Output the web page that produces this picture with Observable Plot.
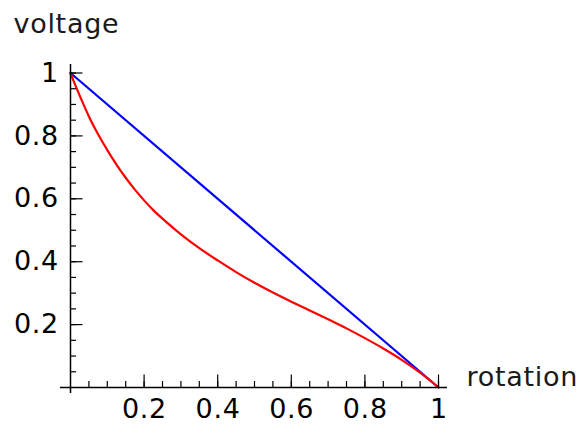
<!DOCTYPE html>
<html><head><meta charset="utf-8">
<script src="https://cdn.jsdelivr.net/npm/d3@7"></script>
<script src="https://cdn.jsdelivr.net/npm/@observablehq/plot@0.6"></script>
<style>body{margin:0;background:#fff}</style>
</head><body><div id="chart"></div>
<script>
// Loaded potentiometer curve (red)
const rotation = [0, 0.01, 0.025, 0.05, 0.075, 0.1, 0.125, 0.15, 0.175, 0.2, 0.225, 0.25, 0.3, 0.35, 0.4, 0.45, 0.5, 0.55, 0.6, 0.65, 0.7, 0.75, 0.8, 0.85, 0.9, 0.95, 1];
const voltageLoaded = [1, 0.970, 0.928, 0.862, 0.805, 0.755, 0.709, 0.667, 0.629, 0.595, 0.564, 0.537, 0.487, 0.443, 0.404, 0.367, 0.333, 0.302, 0.273, 0.245, 0.217, 0.188, 0.157, 0.124, 0.088, 0.047, 0];
// Unloaded (linear) curve (blue)
const linearRotation = [0, 1];
const linearVoltage = [1, 0];
// Ticks
const xMajor = [0.2, 0.4, 0.6, 0.8, 1];
const yMajor = [0.2, 0.4, 0.6, 0.8, 1];
const minorTicks = [0.05, 0.1, 0.15, 0.2, 0.25, 0.3, 0.35, 0.4, 0.45, 0.5, 0.55, 0.6, 0.65, 0.7, 0.75, 0.8, 0.85, 0.9, 0.95, 1];
const xLabel = "rotation";
const yLabel = "voltage";

const fs = 27;
const chart = Plot.plot({
  width: 586, height: 424,
  marginLeft: 70, marginRight: 148, marginTop: 72.5, marginBottom: 37,
  x: {domain: [0, 1], label: null},
  y: {domain: [0, 1], label: null},
  style: {fontFamily: "DejaVu Sans", fontSize: fs + "px", letterSpacing: "0.7px", background: "white", color: "black"},
  marks: [
    Plot.line(linearRotation, {x: linearRotation, y: linearVoltage, stroke: "#0000ff", strokeWidth: 2.2}),
    Plot.line(rotation, {x: rotation, y: voltageLoaded, stroke: "#ff0000", strokeWidth: 2.2, curve: "catmull-rom"}),
    Plot.ruleY([0], {insetLeft: -10, insetRight: -9, stroke: "black", strokeWidth: 1.5}),
    Plot.ruleX([0], {insetTop: -8.5, insetBottom: -6, stroke: "black", strokeWidth: 1.5}),
    Plot.axisX({ticks: minorTicks, tickSize: -6, tickFormat: () => "", strokeWidth: 1.2, label: null}),
    Plot.axisX({ticks: xMajor, tickSize: -12.5, tickFormat: () => "", strokeWidth: 1.2, label: null}),
    Plot.axisY({ticks: minorTicks, tickSize: -6, tickFormat: () => "", strokeWidth: 1.2, label: null}),
    Plot.axisY({ticks: yMajor, tickSize: -12.5, tickFormat: () => "", strokeWidth: 1.2, label: null}),
    Plot.axisX({ticks: xMajor, tickSize: 0, tickPadding: 11, dx: 0.35, tickFormat: d => String(d), fontSize: fs, label: null}),
    Plot.axisY({ticks: yMajor, tickSize: 0, tickPadding: 11.5, tickFormat: d => String(d), fontSize: fs, label: null}),
    Plot.text([yLabel], {text: d => d, frameAnchor: "top-left", dx: -57, dy: -59.2, textAnchor: "start", lineAnchor: "top", fontSize: fs, fill: "#1a1a1a"}),
    Plot.text([xLabel], {text: d => d, frameAnchor: "bottom-right", dx: 28, dy: -20.5, textAnchor: "start", lineAnchor: "top", fontSize: fs, fill: "#1a1a1a"})
  ]
});
document.getElementById("chart").appendChild(chart);
</script>
</body></html>
